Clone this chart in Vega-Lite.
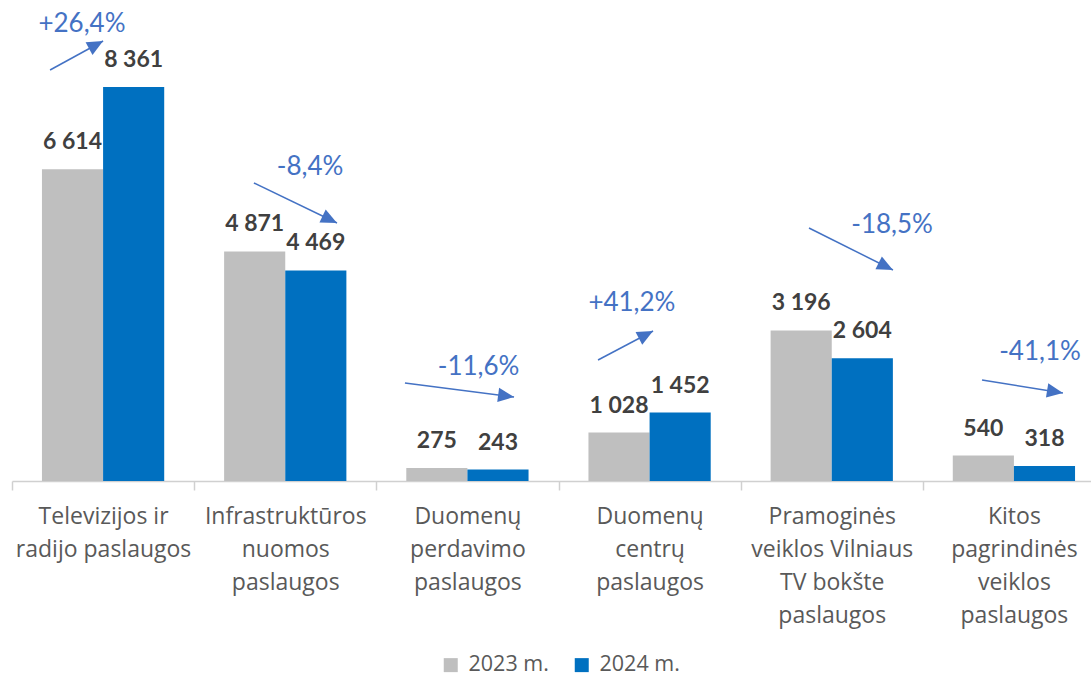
{
  "$schema": "https://vega.github.io/schema/vega-lite/v6.json",
  "width": 1079,
  "height": 481,
  "autosize": {"type": "none"},
  "padding": {"left": 12, "top": 0, "right": 0, "bottom": 198},
  "background": "white",
  "config": {
    "view": {"stroke": null},
    "locale": {"number": {"decimal": ",", "thousands": " ", "grouping": [3], "currency": ["", ""]}},
    "legend": {"labelFont": "Open Sans", "labelFontSize": 21.5, "labelColor": "#595959", "symbolType": "square", "symbolSize": 196, "symbolStrokeWidth": 0, "columnPadding": 22, "labelOffset": 7, "padding": 0}
  },
  "datasets": {
    "bars": [
      {"cat": "Televizijos ir|radijo paslaugos", "year": "2023 m.", "value": 6614},
      {"cat": "Televizijos ir|radijo paslaugos", "year": "2024 m.", "value": 8361},
      {"cat": "Infrastruktūros|nuomos|paslaugos", "year": "2023 m.", "value": 4871},
      {"cat": "Infrastruktūros|nuomos|paslaugos", "year": "2024 m.", "value": 4469},
      {"cat": "Duomenų|perdavimo|paslaugos", "year": "2023 m.", "value": 275},
      {"cat": "Duomenų|perdavimo|paslaugos", "year": "2024 m.", "value": 243},
      {"cat": "Duomenų|centrų|paslaugos", "year": "2023 m.", "value": 1028},
      {"cat": "Duomenų|centrų|paslaugos", "year": "2024 m.", "value": 1452},
      {"cat": "Pramoginės|veiklos Vilniaus|TV bokšte|paslaugos", "year": "2023 m.", "value": 3196},
      {"cat": "Pramoginės|veiklos Vilniaus|TV bokšte|paslaugos", "year": "2024 m.", "value": 2604},
      {"cat": "Kitos|pagrindinės|veiklos|paslaugos", "year": "2023 m.", "value": 540},
      {"cat": "Kitos|pagrindinės|veiklos|paslaugos", "year": "2024 m.", "value": 318}
    ],
    "arrows": [
      {"pct": "+26,4%", "x1": 0.209, "y1": 8722, "x2": 0.500, "y2": 9337, "lx": 0.384, "ly": 9698},
      {"pct": "-8,4%", "x1": 1.328, "y1": 6324, "x2": 1.784, "y2": 5475, "lx": 1.636, "ly": 6663},
      {"pct": "-11,6%", "x1": 2.157, "y1": 2080, "x2": 2.756, "y2": 1783, "lx": 2.561, "ly": 2419},
      {"pct": "+41,2%", "x1": 3.217, "y1": 2568, "x2": 3.519, "y2": 3183, "lx": 3.403, "ly": 3777},
      {"pct": "-18,5%", "x1": 4.375, "y1": 5369, "x2": 4.836, "y2": 4478, "lx": 4.831, "ly": 5432},
      {"pct": "-41,1%", "x1": 5.325, "y1": 2143, "x2": 5.769, "y2": 1867, "lx": 5.643, "ly": 2737}
    ]
  },
  "layer": [
    {
      "data": {"name": "bars"},
      "encoding": {
        "x": {
          "field": "cat", "type": "nominal", "sort": null,
          "scale": {"paddingInner": 0, "paddingOuter": 0, "range": [0, 1093]},
          "axis": {
            "title": null, "labelAngle": 0, "labelExpr": "split(datum.label, '|')",
            "labelFont": "Open Sans", "labelFontSize": 23, "labelColor": "#595959", "labelLineHeight": 33,
            "labelPadding": 15, "labelOverlap": false, "labelLimit": 0, "labelBound": false, "labelFlush": false,
            "domainColor": "#D0D0D0", "domainWidth": 1.5, "tickColor": "#D0D0D0", "tickWidth": 1.5, "tickSize": 9,
            "tickBand": "extent", "grid": false
          }
        },
        "xOffset": {"field": "year", "type": "nominal", "scale": {"paddingInner": 0, "paddingOuter": 0.49}},
        "y": {"field": "value", "type": "quantitative", "scale": {"domain": [0, 10207], "nice": false, "zero": true}, "axis": null}
      },
      "layer": [
        {
          "mark": {"type": "bar"},
          "encoding": {
            "color": {
              "field": "year", "type": "nominal",
              "scale": {"domain": ["2023 m.", "2024 m."], "range": ["#BFBFBF", "#0070C0"]},
              "legend": {"title": null, "orient": "none", "direction": "horizontal", "legendX": 428, "legendY": 654}
            }
          }
        },
        {
          "mark": {"type": "text", "font": "Lato", "fontWeight": "bold", "fontSize": 23, "color": "#404040", "baseline": "middle", "dy": -27},
          "encoding": {"text": {"field": "value", "type": "quantitative", "format": ","}}
        }
      ]
    },
    {
      "data": {"name": "arrows"},
      "transform": [
        {"calculate": "atan2(-(datum.y2 - datum.y1) * 0.047124, (datum.x2 - datum.x1) * 182.17) * 180 / PI", "as": "ang"}
      ],
      "layer": [
        {
          "mark": {"type": "rule", "color": "#4472C4", "strokeWidth": 1.5},
          "encoding": {
            "x": {"field": "x1", "type": "quantitative", "scale": {"domain": [0, 6], "range": [0, 1093], "nice": false, "zero": false}, "axis": null},
            "y": {"field": "y1", "type": "quantitative", "scale": {"domain": [0, 10207], "nice": false}, "axis": null},
            "x2": {"field": "x2"},
            "y2": {"field": "y2"}
          }
        },
        {
          "mark": {"type": "point", "shape": "M0,0L-1,-0.45L-1,0.45Z", "filled": true, "opacity": 1, "color": "#4472C4", "size": 1024},
          "encoding": {
            "x": {"field": "x2", "type": "quantitative", "scale": {"domain": [0, 6], "range": [0, 1093], "nice": false, "zero": false}, "axis": null},
            "y": {"field": "y2", "type": "quantitative", "axis": null},
            "angle": {"field": "ang", "type": "quantitative", "scale": null}
          }
        },
        {
          "mark": {"type": "text", "font": "Lato", "fontSize": 26, "color": "#4472C4", "baseline": "middle", "align": "center"},
          "encoding": {
            "x": {"field": "lx", "type": "quantitative", "scale": {"domain": [0, 6], "range": [0, 1093], "nice": false, "zero": false}, "axis": null},
            "y": {"field": "ly", "type": "quantitative", "axis": null},
            "text": {"field": "pct"}
          }
        }
      ]
    }
  ],
  "resolve": {"scale": {"x": "independent"}}
}
